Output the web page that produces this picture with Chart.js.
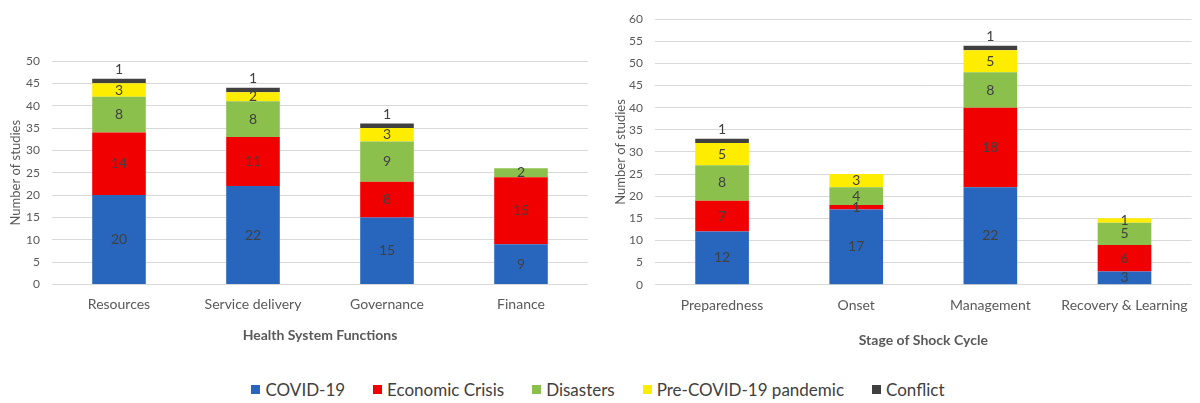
<!DOCTYPE html>
<html>
<head>
<meta charset="utf-8">
<script src="https://cdn.jsdelivr.net/npm/chart.js@4.4.1/dist/chart.umd.min.js"></script>
<style>
  html, body { margin: 0; padding: 0; background: #fff; }
  body { width: 1200px; height: 403px; position: relative; overflow: hidden; font-family: Lato, "Open Sans", sans-serif; }
  .box { position: absolute; top: 0; width: 600px; height: 350px; }
  #leftBox { left: 0; }
  #rightBox { left: 600px; }
  #legend { position: absolute; left: 0; top: 379px; width: 1196px; display: flex; justify-content: center; align-items: center; gap: 28px; font-size: 17px; color: #404040; }
  #legend span.item { display: flex; align-items: center; }
  #legend i { display: inline-block; width: 9px; height: 9px; margin-right: 5px; }
</style>
</head>
<body>
<div class="box" id="leftBox"><canvas id="leftChart"></canvas></div>
<div class="box" id="rightBox"><canvas id="rightChart"></canvas></div>
<div id="legend"></div>

<script>
// series names + colours
const seriesNames = ["COVID-19", "Economic Crisis", "Disasters", "Pre-COVID-19 pandemic", "Conflict"];
const seriesColors = ["#2866BE", "#F00000", "#8BC04C", "#FFED00", "#404040"];

// left panel: Health System Functions
const functionLabels = ["Resources", "Service delivery", "Governance", "Finance"];
const fnCovid = [20, 22, 15, 9];
const fnEconomic = [14, 11, 8, 15];
const fnDisasters = [8, 8, 9, 2];
const fnPreCovid = [3, 2, 3, 0];
const fnConflict = [1, 1, 1, 0];
const fnTicks = [0, 5, 10, 15, 20, 25, 30, 35, 40, 45, 50];

// right panel: Stage of Shock Cycle
const stageLabels = ["Preparedness", "Onset", "Management", "Recovery & Learning"];
const stCovid = [12, 17, 22, 3];
const stEconomic = [7, 1, 18, 6];
const stDisasters = [8, 4, 8, 5];
const stPreCovid = [5, 3, 5, 1];
const stConflict = [1, 0, 1, 0];
const stTicks = [0, 5, 10, 15, 20, 25, 30, 35, 40, 45, 50, 55, 60];

const FONT = "Lato, 'Open Sans', sans-serif";

// draws the value labels: centred in each segment, conflict above the bar
const barLabels = {
  id: "barLabels",
  afterDatasetsDraw(chart) {
    const ctx = chart.ctx;
    ctx.save();
    ctx.font = "14px " + FONT;
    ctx.fillStyle = "#404040";
    ctx.textAlign = "center";
    ctx.textBaseline = "middle";
    chart.data.datasets.forEach((ds, di) => {
      const meta = chart.getDatasetMeta(di);
      meta.data.forEach((bar, i) => {
        const v = ds.data[i];
        if (!v) return;
        let y = (bar.y + bar.base) / 2;
        if (di === 4) y = bar.y - 9;
        ctx.fillText(String(v), bar.x, y);
      });
    });
    ctx.restore();
  }
};

function makeDatasets(cols) {
  return cols.map((data, i) => ({
    label: seriesNames[i],
    data: data,
    backgroundColor: seriesColors[i],
    borderWidth: 0,
    barPercentage: 0.4,
    categoryPercentage: 1.0
  }));
}

function makeChart(id, labels, cols, ticks, cfg) {
  const maxVal = ticks[ticks.length - 1];
  return new Chart(document.getElementById(id), {
    type: "bar",
    data: { labels: labels, datasets: makeDatasets(cols) },
    options: {
      responsive: true,
      maintainAspectRatio: false,
      animation: false,
      layout: { padding: { top: cfg.top, right: cfg.right, bottom: cfg.bottom, left: 0 } },
      plugins: { legend: { display: false }, tooltip: { enabled: false } },
      scales: {
        x: {
          stacked: true,
          grid: { display: false, drawTicks: false },
          border: { display: false },
          ticks: { color: "#595959", font: { family: FONT, size: 14 }, padding: 12, maxRotation: 0, autoSkip: false },
          title: { display: true, text: cfg.xTitle, color: "#595959", font: { family: FONT, size: 14, weight: "bold" }, padding: { top: 0, bottom: 0 } },
          afterFit(scale) { scale.height = cfg.xHeight; }
        },
        y: {
          stacked: true,
          min: 0,
          max: maxVal,
          afterBuildTicks(scale) { scale.ticks = ticks.map(v => ({ value: v })); },
          grid: { color: "#D9D9D9", lineWidth: 1, drawTicks: false },
          border: { display: false },
          ticks: { color: "#595959", font: { family: FONT, size: 12 }, padding: 12 },
          title: { display: true, text: "Number of studies", color: "#595959", font: { family: FONT, size: 13 }, padding: { top: cfg.yTitlePad, bottom: 0 } },
          afterFit(scale) { scale.width = cfg.yWidth; }
        }
      }
    },
    plugins: [barLabels]
  });
}

makeChart("leftChart", functionLabels, [fnCovid, fnEconomic, fnDisasters, fnPreCovid, fnConflict], fnTicks,
  { top: 61, right: 12, bottom: 6.6, xHeight: 59, yWidth: 52, yTitlePad: 8, xTitle: "Health System Functions" });

makeChart("rightChart", stageLabels, [stCovid, stEconomic, stDisasters, stPreCovid, stConflict], stTicks,
  { top: 14, right: 3, bottom: 1.6, xHeight: 63.7, yWidth: 55, yTitlePad: 13, xTitle: "Stage of Shock Cycle" });

// shared legend
const legend = document.getElementById("legend");
seriesNames.forEach((name, i) => {
  legend.innerHTML += `<span class="item"><i style="background:${seriesColors[i]}"></i>${name}</span>`;
});
</script>
</body>
</html>
